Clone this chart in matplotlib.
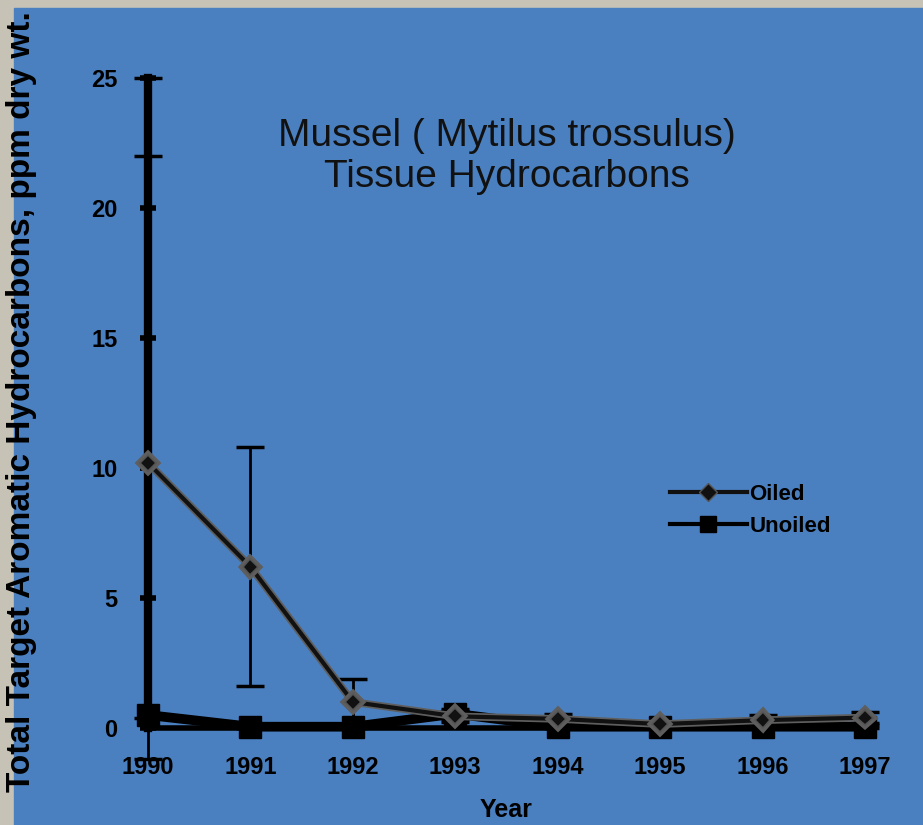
import matplotlib.pyplot as plt
import matplotlib.patheffects as pe
from matplotlib.patches import Rectangle
from matplotlib.lines import Line2D

years = [1990, 1991, 1992, 1993, 1994, 1995, 1996, 1997]
oiled = [10.2, 6.2, 1.0, 0.45, 0.35, 0.15, 0.3, 0.4]
oiled_err_lo = [11.4, 4.6, 0.9, 0.2, 0.2, 0.05, 0.2, 0.2]
oiled_err_hi = [14.8, 4.6, 0.9, 0.2, 0.2, 0.05, 0.2, 0.2]
unoiled = [0.5, 0.05, 0.05, 0.55, 0.05, 0.05, 0.05, 0.05]
unoiled_err = [[0.1, 0.05, 0.05, 0.2, 0.05, 0.05, 0.05, 0.05],
               [21.5, 0.05, 0.05, 0.2, 0.05, 0.05, 0.05, 0.05]]

blue = '#4b80c0'
grey = '#c6c3b6'
fnt = ['Liberation Sans Narrow', 'Liberation Sans', 'DejaVu Sans']

fig = plt.figure(figsize=(9.23, 8.25), dpi=100)
fig.patch.set_facecolor(grey)
fig.add_artist(Rectangle((14 / 923, 0), 1, 1 - 8 / 825, transform=fig.transFigure,
                         color=blue, zorder=-5))

ax = fig.add_axes([148 / 923, 97 / 825, 717 / 923, 650 / 825])
ax.patch.set_visible(False)

# error bars
ax.errorbar(years, oiled, yerr=[oiled_err_lo, oiled_err_hi], fmt='none', ecolor='black',
            elinewidth=2, capsize=10, capthick=2.5, clip_on=False, zorder=2)
ax.errorbar(years, unoiled, yerr=unoiled_err, fmt='none', ecolor='black',
            elinewidth=2, capsize=10, capthick=2.5, clip_on=False, zorder=2)

# Unoiled line
ax.plot(years, unoiled, color='black', lw=7, marker='s', markersize=16,
        clip_on=False, zorder=3)

# Oiled line with grey edge
ax.plot(years, oiled, color='#111111', lw=3, marker='D', markersize=8,
        markeredgecolor='#555555', markeredgewidth=1.2, clip_on=False, zorder=4,
        path_effects=[pe.Stroke(linewidth=5.5, foreground='#5e5e5e'), pe.Normal()])

ax.set_xlim(1990, 1997)
ax.set_ylim(0, 25)
ax.set_xticks(years)
ax.set_yticks([0, 5, 10, 15, 20, 25])
ax.set_yticklabels(['0', '5', '10', '15', '20', '25'])

for s in ['top', 'right']:
    ax.spines[s].set_visible(False)
ax.spines['left'].set_linewidth(6)
ax.spines['bottom'].set_linewidth(4)
ax.tick_params(axis='y', direction='inout', length=12, width=4, pad=16)
ax.tick_params(axis='x', length=0, pad=20)
for lab in ax.get_xticklabels() + ax.get_yticklabels():
    lab.set_fontfamily(fnt)
    lab.set_fontweight('bold')
    lab.set_fontsize(17)

ax.set_xlabel('Year', fontsize=18, fontweight='bold', family=fnt, labelpad=14)
fig.text(22 / 923, 0.513, 'Total Target Aromatic Hydrocarbons, ppm dry wt.',
         rotation=90, ha='center', va='center', fontsize=24, fontweight='bold', family=fnt)

ax.text(0.50, 0.938, 'Mussel ( Mytilus trossulus)\nTissue Hydrocarbons', transform=ax.transAxes,
        ha='center', va='top', fontsize=28, family=fnt, linespacing=1.18, color='#111111')

handles = [Line2D([], [], color='#111111', lw=3, marker='D', markersize=9,
                  markeredgecolor='#555555'),
           Line2D([], [], color='black', lw=3, marker='s', markersize=12)]
leg = ax.legend(handles, ['Oiled', 'Unoiled'], loc='center', bbox_to_anchor=(0.84, 0.335),
                frameon=False, handlelength=3.5, handletextpad=0.1,
                prop={'family': fnt, 'weight': 'bold', 'size': 16})

fig.savefig('out.png', dpi=100, facecolor=fig.get_facecolor())
